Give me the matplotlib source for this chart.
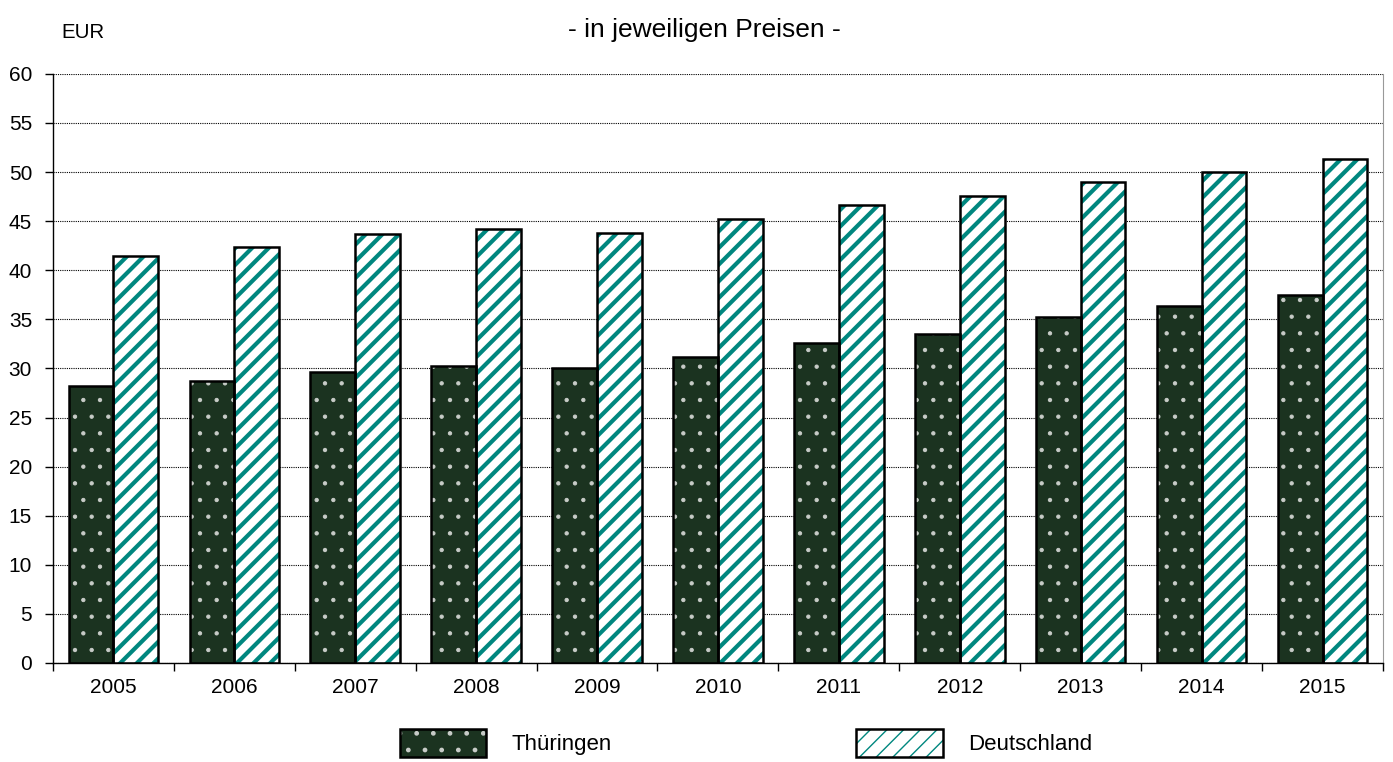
import numpy as np
import matplotlib.pyplot as plt
from matplotlib.patches import Patch

years = ['2005', '2006', '2007', '2008', '2009', '2010', '2011', '2012', '2013', '2014', '2015']
thueringen = [28.2, 28.7, 29.6, 30.2, 30.0, 31.2, 32.6, 33.5, 35.2, 36.4, 37.5]
deutschland = [41.5, 42.4, 43.7, 44.2, 43.8, 45.2, 46.6, 47.6, 49.0, 50.0, 51.3]

green = '#1b3320'
teal = '#00877f'
dot = '#c8ccc8'

plt.rcParams['font.family'] = ['Liberation Sans', 'DejaVu Sans']

fig = plt.figure(figsize=(13.93, 7.62), dpi=100)
ax = fig.add_axes([0.038, 0.13, 0.9548, 0.773])

x = np.arange(len(years))
w = 0.37

# Thüringen: dark green with light dots
with plt.rc_context({'hatch.linewidth': 0.7}):
    ax.bar(x - w / 2, thueringen, w, color=green, edgecolor=dot, hatch='.', linewidth=0, zorder=2)
ax.bar(x - w / 2, thueringen, w, facecolor='none', edgecolor='black', linewidth=1.8, zorder=3)

# Deutschland: teal stripes on white
with plt.rc_context({'hatch.linewidth': 3.0}):
    ax.bar(x + w / 2, deutschland, w, color='white', edgecolor=teal, hatch='//', linewidth=0, zorder=2)
ax.bar(x + w / 2, deutschland, w, facecolor='none', edgecolor='black', linewidth=1.8, zorder=3)

ax.set_xlim(-0.5, len(years) - 0.5)
ax.set_ylim(0, 60)
ax.set_yticks(range(0, 61, 5))
ax.set_xticks(x)
ax.set_xticklabels(years)
ax.set_xticks(np.arange(-0.5, len(years), 1), minor=True)
ax.tick_params(axis='x', which='major', length=0, labelsize=15, pad=11)
ax.tick_params(axis='x', which='minor', length=6, width=1)
ax.tick_params(axis='y', length=6, width=1, labelsize=15, pad=9)
ax.yaxis.grid(True, linestyle=(0, (1, 1)), color='black', linewidth=0.8, zorder=0)
ax.set_axisbelow(True)

ax.spines['top'].set_visible(False)
ax.spines['right'].set_color('#999999')
ax.spines['left'].set_linewidth(1)
ax.spines['bottom'].set_linewidth(1)

fig.text(0.506, 0.961, '- in jeweiligen Preisen -', ha='center', va='center', fontsize=19)
fig.text(0.044, 0.957, 'EUR', ha='left', va='center', fontsize=14.7)

with plt.rc_context({'hatch.linewidth': 0.7}):
    h1 = (Patch(facecolor=green, edgecolor=dot, hatch='.', linewidth=0),
          Patch(facecolor='none', edgecolor='black', linewidth=1.8))
with plt.rc_context({'hatch.linewidth': 3.0}):
    h2 = (Patch(facecolor='white', edgecolor=teal, hatch='//', linewidth=0),
          Patch(facecolor='none', edgecolor='black', linewidth=1.8))

fig.legend([h1, h2], ['Thüringen', 'Deutschland'], ncol=2, loc='center left',
           bbox_to_anchor=(0.287, 0.025), frameon=False, fontsize=16,
           handlelength=3.9, handleheight=1.6, handletextpad=1.13,
           columnspacing=11.0, borderpad=0, borderaxespad=0)

fig.savefig('out.png', dpi=100)
